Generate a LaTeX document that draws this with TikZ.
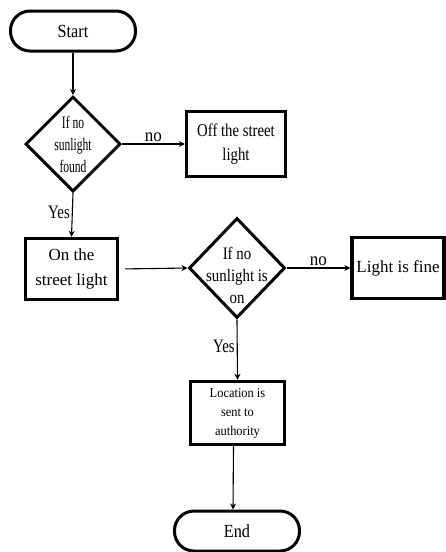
\documentclass[tikz,border=0pt]{standalone}
\usepackage{fontspec}
\setmainfont{Liberation Serif}
\usetikzlibrary{shapes.geometric,arrows.meta}

% narrow serif text at a given stretch, size and line spacing
\newcommand\flowfont[3]{\fontspec[FakeStretch=#1]{Liberation Serif}\fontsize{#2}{#3}\selectfont}

\begin{document}
\begin{tikzpicture}[
    x=1pt, y=-1pt,
    term/.style={rectangle, rounded corners=19.5pt, draw, line width=3pt, minimum width=125pt, minimum height=40pt, inner sep=1pt, font=\flowfont{0.88}{18.5}{20}},
    proc/.style={rectangle, draw, line width=3.4pt, align=center, inner sep=1pt},
    dec/.style={diamond, draw, line width=3pt, inner sep=0pt},
    dectext/.style={align=center, inner sep=0pt},
    flow/.style={-{Stealth[length=6pt,width=6pt]}, line width=1.1pt},
    lbl/.style={inner sep=2pt}
]
\useasboundingbox (0,0) rectangle (446,552);

% terminals
\node[term] (start) at (73,31) {Start};
\node[term] (end) at (237,531) {End};

% decisions
\node[dec, minimum width=95pt, minimum height=95pt] (sun1) at (73,144) {};
\node[dectext, font=\flowfont{0.66}{17.5}{22}] (sun1txt) at (sun1) {If no\\sunlight\\found};
\node[dec, minimum width=96pt, minimum height=100pt] (sun2) at (237,268) {};
\node[dectext, font=\flowfont{0.85}{17.5}{22}] (sun2txt) at ([yshift=-7pt]sun2) {If no\\sunlight is\\on};

% processes
\node[proc, minimum width=99pt, minimum height=65pt, font=\flowfont{0.82}{18}{24}] (off) at (236,144) {Off the street\\light};
\node[proc, minimum width=92pt, minimum height=61pt, font=\flowfont{1.0}{17}{25}] (on) at (71.5,269) {On the\\street light};
\node[proc, minimum width=92pt, minimum height=61pt, font=\flowfont{1.0}{17}{20}] (fine) at (398,268) {Light is fine};
\node[proc, minimum width=94pt, minimum height=63pt, font=\flowfont{0.92}{13.5}{19}] (loc) at (237.5,413) {Location is\\sent to\\authority};

% connectors
\draw[flow] (start) -- (sun1);
\draw[flow] (sun1.east) -- node[lbl, above, font=\flowfont{0.92}{18.5}{20}] (no1) {no} (off.west);
\draw[flow] (sun1.south) -- node[lbl, left, pos=0.45, font=\flowfont{0.78}{19}{20}] (yes1) {Yes} (on.north);
\draw[flow, shorten <=6pt] (on.east) -- (sun2.west);
\draw[flow] (sun2.east) -- node[lbl, above, font=\flowfont{0.92}{18.5}{20}] (no2) {no} (fine.west);
\draw[flow] (sun2.south) -- node[lbl, left, pos=0.45, font=\flowfont{0.78}{19}{20}] (yes2) {Yes} (loc.north);
\draw[flow] ([xshift=-4pt]loc.south) -- ([xshift=-4pt]end.north);
\end{tikzpicture}
\end{document}
